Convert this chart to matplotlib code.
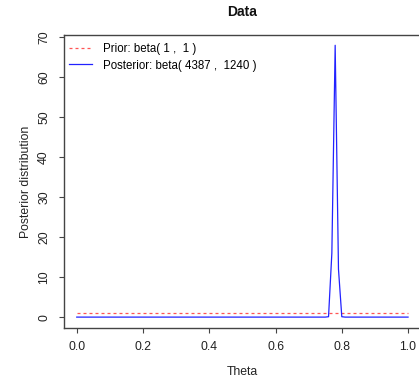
import matplotlib
matplotlib.use("Agg")
import matplotlib.pyplot as plt

# Data
prior_theta = [0.0, 1.0]
prior_density = [1.0, 1.0]

post_theta = [0.0, 0.75, 0.76, 0.77, 0.78, 0.79, 0.80, 0.81, 1.0]
post_density = [0.0, 0.0, 0.1, 16.0, 68.0, 12.0, 0.1, 0.0, 0.0]

x_ticks = [0.0, 0.2, 0.4, 0.6, 0.8, 1.0]
x_ticklabels = ["0.0", "0.2", "0.4", "0.6", "0.8", "1.0"]
y_ticks = [0, 10, 20, 30, 40, 50, 60, 70]

prior_label = "Prior: beta( 1 ,  1 )"
post_label = "Posterior: beta( 4387 ,  1240 )"

plt.rcParams['font.family'] = ['Liberation Sans', 'DejaVu Sans']
FS = 8.8

W, H = 419, 379
fig = plt.figure(figsize=(W / 100, H / 100), dpi=100)
left_px, right_px, top_px, bot_px = 63.5, 421.3, 35.3, 328.3
ax = fig.add_axes([left_px / W, 1 - bot_px / H, (right_px - left_px) / W, (bot_px - top_px) / H])

ax.plot(prior_theta, prior_density, color='#ff5555', lw=0.9, dashes=(2.4, 2.4), label=prior_label)
ax.plot(post_theta, post_density, color='#2222ff', lw=0.9, label=post_label)

ax.set_xlim(-0.04, 1.04)
ax.set_ylim(-2.8, 70.5)
ax.set_xticks(x_ticks)
ax.set_xticklabels(x_ticklabels)
ax.set_yticks(y_ticks)
ax.set_yticklabels([str(v) for v in y_ticks], rotation=90, va='center')

for s in ax.spines.values():
    s.set_color('#444444')
    s.set_linewidth(1.0)
ax.tick_params(axis='both', length=3.6, width=0.8, color='#444444', labelsize=FS, labelcolor='#222222')
ax.tick_params(axis='x', pad=5.5)
ax.tick_params(axis='y', pad=6.0)

ax.set_xlabel('Theta', fontsize=FS, color='#222222', va='center')
ax.xaxis.set_label_coords(0.5, (bot_px - 371.7) / (bot_px - top_px))
ax.set_ylabel('Posterior distribution', fontsize=FS, color='#222222', va='center')
ax.yaxis.set_label_coords((25.5 - left_px) / (right_px - left_px), 0.5)

ax.text(0.5, (bot_px - 12.5) / (bot_px - top_px), 'Data', transform=ax.transAxes,
        ha='center', va='center', fontsize=10, fontweight='bold', color='#111111')

ax.legend(loc='upper left', frameon=False, fontsize=8.3,
          bbox_to_anchor=(left_px / W + 0.008, 1 - top_px / H - 0.014), bbox_transform=fig.transFigure,
          handlelength=2.0, handletextpad=0.95, labelspacing=0.4, borderaxespad=0.0, borderpad=0.2)

fig.savefig('out.png', dpi=100)
